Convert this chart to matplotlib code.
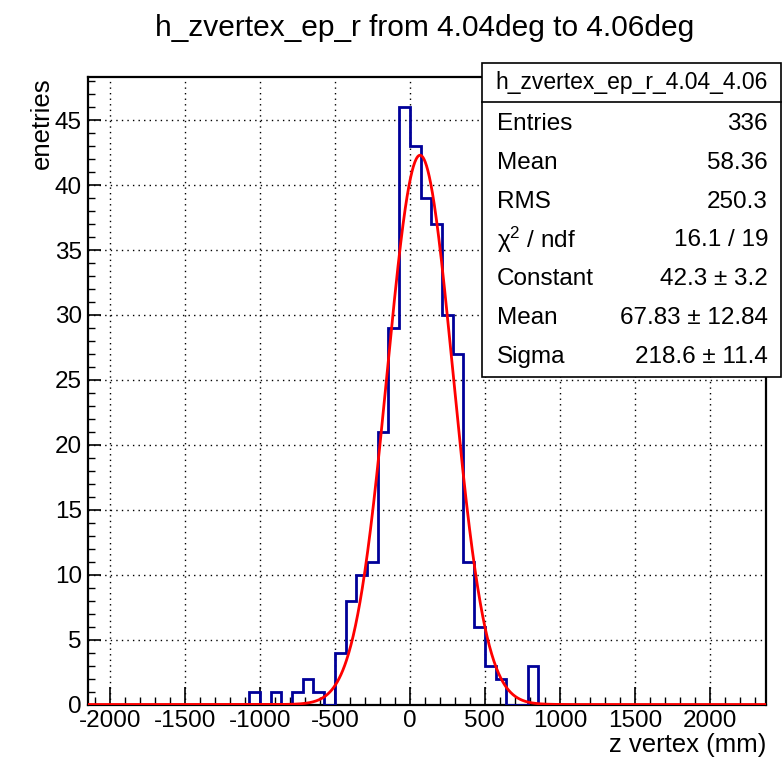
import numpy as np
import matplotlib
matplotlib.use("Agg")
import matplotlib.pyplot as plt
from matplotlib.patches import Rectangle
from matplotlib.ticker import MultipleLocator

plt.rcParams['font.family'] = ['Liberation Sans', 'DejaVu Sans']
plt.rcParams['axes.unicode_minus'] = False
plt.rcParams['mathtext.default'] = 'regular'

# Histogram binning: width 500/7 mm, bins indexed from -30 to 32
bin_width = 500.0 / 7.0
first_bin = -30
n_bins = 63

# Counts for bins -15 .. 11 (all other bins are empty)
filled_first = -15
filled_counts = [1, 0, 1, 0, 1, 2, 1, 0, 4, 8, 10, 11, 21, 29, 46,
                 43, 39, 37, 30, 27, 11, 6, 3, 2, 0, 0, 3]

# Gaussian fit result
fit_const = 42.3
fit_mean = 67.83
fit_sigma = 218.6

stats_title = "h_zvertex_ep_r_4.04_4.06"
stats_rows = [
    ("Entries", "336"),
    ("Mean", "58.36"),
    ("RMS", "250.3"),
    ("χ$^{2}$ / ndf", "16.1 / 19"),
    ("Constant", "42.3 ± 3.2"),
    ("Mean", "67.83 ± 12.84"),
    ("Sigma", "218.6 ± 11.4"),
]

counts = np.zeros(n_bins)
start = filled_first - first_bin
counts[start:start + len(filled_counts)] = filled_counts
edges = (np.arange(n_bins + 1) + first_bin) * bin_width

W, H = 783, 762
fig = plt.figure(figsize=(W / 100, H / 100), dpi=100)
ax = fig.add_axes([87.5 / W, 1 - 704.5 / H, (766 - 87.5) / W, (704.5 - 77.3) / H])

ax.set_xlim(-2150, 2375)
ax.set_ylim(0, 48.3)

ax.stairs(counts, edges, color='#000099', lw=2.0, zorder=3)
xf = np.linspace(-2150, 2375, 1500)
ax.plot(xf, fit_const * np.exp(-0.5 * ((xf - fit_mean) / fit_sigma) ** 2),
        color='#ff0000', lw=2.0, zorder=4)

ax.xaxis.set_major_locator(MultipleLocator(500))
ax.xaxis.set_minor_locator(MultipleLocator(100))
ax.yaxis.set_major_locator(MultipleLocator(5))
ax.yaxis.set_minor_locator(MultipleLocator(1))
ax.tick_params(axis='x', which='major', direction='in', length=13, width=1.2,
               labelsize=17.5, pad=4, top=False)
ax.tick_params(axis='x', which='minor', direction='in', length=6, width=1.0, top=False)
ax.tick_params(axis='y', which='major', direction='in', length=9, width=1.2,
               labelsize=17.5, pad=4, right=False)
ax.tick_params(axis='y', which='minor', direction='in', length=5, width=1.0, right=False)
ax.grid(True, which='major', color='black', linestyle=(0, (1, 3)), lw=1.0)
for s in ax.spines.values():
    s.set_linewidth(1.6)

fig.text(425 / W, 1 - 28 / H, "h_zvertex_ep_r from 4.04deg to 4.06deg",
         ha='center', va='center', fontsize=21.5)
fig.text(42 / W, 1 - 77 / H, "enetries", rotation=90, ha='center', va='top',
         fontsize=18.5)
fig.text(766 / W, 1 - 745 / H, "z vertex (mm)", ha='right', va='center',
         fontsize=18.5)

# Statistics box
bx0, bx1, by0, by1 = 482, 781, 63, 377
fig.patches.append(Rectangle((bx0 / W, 1 - by1 / H), (bx1 - bx0) / W, (by1 - by0) / H,
                             transform=fig.transFigure, facecolor='white',
                             edgecolor='black', lw=1.2, zorder=10))
fig.add_artist(plt.Line2D([bx0 / W, bx1 / W], [1 - 102 / H, 1 - 102 / H],
                          transform=fig.transFigure, color='black', lw=1.2, zorder=11))
fig.text((bx0 + bx1) / 2 / W, 1 - 83 / H, stats_title, ha='center', va='center',
         fontsize=16.5, zorder=12)
for i, (name, val) in enumerate(stats_rows):
    y = 1 - (124 + i * 38.8) / H
    fig.text(497 / W, y, name, ha='left', va='center', fontsize=17.5, zorder=12)
    fig.text(768 / W, y, val, ha='right', va='center', fontsize=17.5, zorder=12)

fig.savefig("out.png", dpi=100, facecolor='white')
